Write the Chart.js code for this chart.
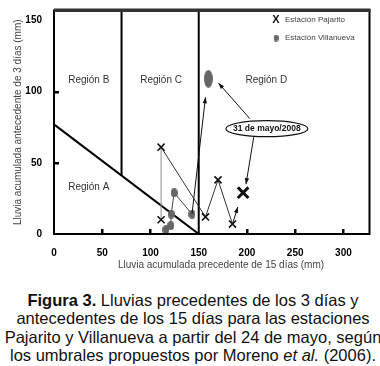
<!DOCTYPE html>
<html>
<head>
<meta charset="utf-8">
<script src="https://cdn.jsdelivr.net/npm/chart.js@4"></script>
<style>
  body { margin: 0; background: #fff; width: 380px; height: 366px; overflow: hidden; position: relative; }
  #chart { position: absolute; left: 0; top: 0; }
  #caption {
    position: absolute; left: 3px; top: 291px; width: 380px; text-align: center;
    font-family: "Liberation Sans", Arial, sans-serif; font-size: 16.5px; line-height: 18.3px; color: #111;
  }
</style>
</head>
<body>
<canvas id="chart" width="380" height="280"></canvas>
<div id="caption"><b>Figura 3.</b> Lluvias precedentes de los 3 días y<br>antecedentes de los 15 días para las estaciones<br>Pajarito y Villanueva a partir del 24 de mayo, según<br>los umbrales propuestos por Moreno <i>et al.</i> (2006).</div>
<script>
// values (mm)
const pajaritoX = [111, 111, 157, 170, 185];
const pajaritoY = [10, 61, 12, 38, 7];
const pajaritoLastX = [196];   // 31 de mayo
const pajaritoLastY = [29];

const villanuevaX = [116, 121, 121.5, 124.5, 143];
const villanuevaY = [3, 6, 14, 29, 14];
const villanuevaLastX = [160];  // 31 de mayo
const villanuevaLastY = [109];

// threshold lines between regions
const diagX = [0, 150];
const diagY = [77, 0];
const lineBCX = [70, 70];
const lineBCY = [41, 157];
const lineCDX = [150, 150];
const lineCDY = [0, 157];

const regionNames = ['Región A', 'Región B', 'Región C', 'Región D'];
const regionX = [36, 36, 111, 220];
const regionY = [33, 108, 108, 108];

// arrows: from -> to
const arrowFromX = [185, 143, 203, 207];
const arrowFromY = [7, 14, 81, 68];
const arrowToX = [190.5, 157, 170.5, 199];
const arrowToY = [19, 96, 106, 35];

const noteText = '31 de mayo/2008';
const noteX = 220.6;
const noteY = 74;

const xTicks = [50, 100, 200, 250, 300];
const yTicks = [50, 100];

const FONT = '"Liberation Sans", Arial, sans-serif';

function zip(xs, ys) {
    return xs.map((x, i) => ({ x: x, y: ys[i] }));
}

function ellipseImg(w, h, color) {
    const c = document.createElement('canvas');
    c.width = w;
    c.height = h;
    const g = c.getContext('2d');
    g.fillStyle = color;
    g.beginPath();
    g.ellipse(w / 2, h / 2, w / 2, h / 2, 0, 0, Math.PI * 2);
    g.fill();
    return c;
}

const smallDot = ellipseImg(7, 9, '#666');
const bigDot = ellipseImg(9, 18, '#666');
const legendDot = ellipseImg(5, 7, '#666');

function arrow(ctx, x1, y1, x2, y2) {
    const a = Math.atan2(y2 - y1, x2 - x1);
    ctx.beginPath();
    ctx.moveTo(x1, y1);
    ctx.lineTo(x2, y2);
    ctx.stroke();
    ctx.beginPath();
    ctx.moveTo(x2, y2);
    ctx.lineTo(x2 - 6 * Math.cos(a) + 2.2 * Math.sin(a), y2 - 6 * Math.sin(a) - 2.2 * Math.cos(a));
    ctx.lineTo(x2 - 6 * Math.cos(a) - 2.2 * Math.sin(a), y2 - 6 * Math.sin(a) + 2.2 * Math.cos(a));
    ctx.closePath();
    ctx.fill();
}

const extras = {
    id: 'extras',
    afterDatasetsDraw(chart) {
        const ctx = chart.ctx;
        const xs = chart.scales.x;
        const ys = chart.scales.y;
        const area = chart.chartArea;
        ctx.save();

        // region labels
        ctx.fillStyle = '#333';
        ctx.font = '10px ' + FONT;
        ctx.textAlign = 'center';
        ctx.textBaseline = 'middle';
        regionNames.forEach((n, i) => {
            ctx.fillText(n, xs.getPixelForValue(regionX[i]), ys.getPixelForValue(regionY[i]));
        });

        // arrows
        ctx.strokeStyle = '#111';
        ctx.fillStyle = '#111';
        ctx.lineWidth = 1;
        arrowFromX.forEach((v, i) => {
            arrow(ctx, xs.getPixelForValue(v), ys.getPixelForValue(arrowFromY[i]),
                xs.getPixelForValue(arrowToX[i]), ys.getPixelForValue(arrowToY[i]));
        });

        // note ellipse
        const nx = xs.getPixelForValue(noteX);
        const ny = ys.getPixelForValue(noteY);
        ctx.beginPath();
        ctx.ellipse(nx, ny, 41, 8, 0, 0, Math.PI * 2);
        ctx.fillStyle = '#fff';
        ctx.fill();
        ctx.lineWidth = 1.2;
        ctx.stroke();
        ctx.fillStyle = '#111';
        ctx.font = 'bold 8.5px ' + FONT;
        ctx.fillText(noteText, nx, ny + 0.5);

        // legend
        ctx.font = 'bold 11px ' + FONT;
        ctx.fillText('X', 276, 20);
        ctx.drawImage(legendDot, 276 - 2.5, 38 - 3.5);
        ctx.textAlign = 'left';
        ctx.fillStyle = '#444';
        ctx.font = '8px ' + FONT;
        ctx.fillText('Estación Pajarito', 285, 20);
        ctx.fillText('Estación Villanueva', 285, 38);

        // tick marks inside the frame
        ctx.fillStyle = '#000';
        xTicks.forEach(v => {
            const px = Math.round(xs.getPixelForValue(v));
            ctx.fillRect(px - 1, area.bottom - 5, 2.5, 5);
        });
        yTicks.forEach(v => {
            const py = Math.round(ys.getPixelForValue(v));
            ctx.fillRect(area.left, py - 1, 5, 2.5);
        });

        // frame
        ctx.lineWidth = 2;
        ctx.strokeStyle = '#000';
        ctx.strokeRect(area.left, area.top, area.right - area.left, area.bottom - area.top);
        ctx.fillStyle = '#333';
        ctx.fillRect(area.left, area.top - 2, area.right - area.left + 1, 3.5);

        // x axis title
        ctx.fillStyle = '#444';
        ctx.font = '10px ' + FONT;
        ctx.textAlign = 'center';
        ctx.fillText('Lluvia acumulada precedente de 15 días (mm)', 221, 265);
        ctx.restore();
    }
};

const regionLine = (xsArr, ysArr) => ({
    data: zip(xsArr, ysArr),
    showLine: true,
    borderColor: '#000',
    borderWidth: 2,
    pointRadius: 0,
    order: 5
});

new Chart(document.getElementById('chart'), {
    type: 'scatter',
    data: {
        datasets: [
            regionLine(diagX, diagY),
            regionLine(lineBCX, lineBCY),
            regionLine(lineCDX, lineCDY),
            {
                label: 'Estación Villanueva',
                data: zip(villanuevaX, villanuevaY),
                showLine: true,
                borderColor: '#444',
                borderWidth: 1,
                pointStyle: smallDot,
                order: 2
            },
            {
                label: 'Villanueva 31 de mayo',
                data: zip(villanuevaLastX, villanuevaLastY),
                pointStyle: bigDot,
                order: 2
            },
            {
                label: 'Estación Pajarito',
                data: zip(pajaritoX, pajaritoY),
                showLine: true,
                borderColor: '#333',
                borderWidth: 1,
                segment: {
                    borderColor: c => c.p0DataIndex === 0 ? '#8a8a8a' : undefined
                },
                pointStyle: 'crossRot',
                pointRadius: 5,
                pointBorderWidth: 1.6,
                pointBorderColor: '#111',
                order: 1
            },
            {
                label: 'Pajarito 31 de mayo',
                data: zip(pajaritoLastX, pajaritoLastY),
                pointStyle: 'crossRot',
                pointRadius: 7.5,
                pointBorderWidth: 3,
                pointBorderColor: '#111',
                order: 1
            }
        ]
    },
    options: {
        responsive: false,
        animation: false,
        devicePixelRatio: 1,
        layout: { padding: { top: 7, right: 7, left: 0, bottom: 0 } },
        plugins: {
            legend: { display: false },
            tooltip: { enabled: false }
        },
        scales: {
            x: {
                type: 'linear',
                min: 0,
                max: 327,
                grid: { display: false },
                border: { display: false },
                ticks: {
                    stepSize: 50,
                    includeBounds: false,
                    padding: 5,
                    color: '#000',
                    font: { family: FONT, size: 10, weight: 'bold' }
                },
                afterFit: s => { s.height = 46; }
            },
            y: {
                min: 0,
                max: 157,
                grid: { display: false },
                border: { display: false },
                ticks: {
                    stepSize: 50,
                    includeBounds: false,
                    padding: 4,
                    color: '#000',
                    font: { family: FONT, size: 10, weight: 'bold' }
                },
                title: {
                    display: true,
                    text: 'Lluvia acumulada antecedente de 3 días (mm)',
                    color: '#444',
                    font: { family: FONT, size: 10 },
                    padding: { top: 12, bottom: 0 }
                },
                afterFit: s => { s.width = 54; }
            }
        }
    },
    plugins: [extras]
});
</script>
</body>
</html>
